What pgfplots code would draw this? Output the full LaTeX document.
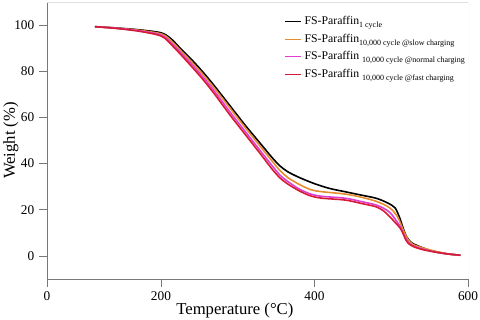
\documentclass[border=0pt]{standalone}
\usepackage{pgfplots}
\pgfplotsset{compat=1.18}
\usepackage{fontspec}
\setmainfont{Liberation Serif}

\definecolor{slowc}{RGB}{228,140,48}
\definecolor{normc}{RGB}{224,60,210}
\definecolor{fastc}{RGB}{214,28,52}
\definecolor{axc}{RGB}{120,120,120}

\newcommand{\sub}[1]{\raisebox{-0.55ex}{\fontsize{6}{7}\selectfont #1}}

\begin{document}
\begin{tikzpicture}
\begin{axis}[
    name=ax,
    scale only axis,
    width=315.75pt, height=207.75pt,
    xmin=51.5, xmax=600,
    ymin=-10, ymax=110,
    xtick={51.5,200,400,600},
    xticklabels={0,200,400,600},
    ytick={0,20,40,60,80,100},
    axis x line*=bottom,
    axis y line*=left,
    axis line style={axc, line width=0.6pt},
    tick style={axc, line width=0.6pt},
    major tick length=6pt,
    tick align=outside,
    /pgf/number format/assume math mode=true,
    ticklabel style={font=\fontsize{10}{12}\selectfont},
    xlabel={Temperature (°C)},
    ylabel={Weight (\%)},
    label style={font=\fontsize{12.5}{14}\selectfont},
    xlabel style={yshift=5pt, xshift=-17pt},
    ylabel style={yshift=-10pt},
    legend style={draw=none, fill=none, at={(0.555,0.968)}, anchor=north west,
        font=\fontsize{8.8}{10}\selectfont, row sep=1.5pt},
    legend cell align=left,
    legend image code/.code={\draw[#1, line width=0.8pt] (0pt,0pt) -- (12pt,0pt);},
]
\draw[black!12, line width=0.6pt] (rel axis cs:0,1) -- (rel axis cs:1,1) -- (rel axis cs:1,0);

\addplot[black, line width=1.2pt, smooth] coordinates {
 (114,99.3) (140,98.8) (170,98.0) (195,97.0) (205,96.0) (215,93.5) (225,90.0)
 (240,85.0) (255,79.5) (270,73.5) (290,65.0) (310,56.5) (330,48.5) (345,42.5)
 (355,39.0) (365,36.5) (380,34.0) (400,31.3) (420,29.2) (440,27.8) (460,26.4)
 (480,25.0) (495,23.0) (505,20.8) (511,16.5) (515,12.5) (520,8.3) (526,5.8)
 (533,4.6) (545,3.0) (555,2.0) (575,0.8) (590,0.3)
};
\addlegendentry{FS-Paraffin\sub{1 cycle}}

\addplot[slowc, line width=1.2pt, smooth] coordinates {
 (114,99.3) (140,98.7) (170,97.8) (195,96.6) (205,95.5) (215,92.7) (225,89.2)
 (240,84.0) (255,78.5) (270,72.5) (290,64.0) (310,55.5) (330,47.2) (345,41.0)
 (355,37.0) (365,34.0) (380,31.0) (395,28.7) (410,27.8) (440,26.8) (460,25.5)
 (480,23.7) (495,21.5) (503,19.3) (509,16.5) (514,12.5) (518,9.5) (522,7.0)
 (528,5.0) (536,4.0) (548,2.8) (560,1.8) (575,0.8) (590,0.3)
};
\addlegendentry{FS-Paraffin\sub{10,000 cycle @slow charging}}

\addplot[normc, line width=1.2pt, smooth] coordinates {
 (114,99.3) (140,98.7) (170,97.6) (195,96.2) (205,94.8) (215,91.7) (225,88.3)
 (240,83.0) (255,77.3) (270,71.2) (290,62.3) (310,53.8) (330,45.3) (345,39.0)
 (355,35.0) (365,32.3) (380,29.0) (395,26.8) (410,25.8) (440,25.0) (460,23.6)
 (480,22.1) (492,20.3) (500,18.2) (507,15.0) (512,12.5) (516,9.5) (520,7.0)
 (525,5.0) (533,3.8) (545,2.6) (560,1.5) (575,0.8) (590,0.3)
};
\addlegendentry{FS-Paraffin \sub{10,000 cycle @normal charging}}

\addplot[fastc, line width=1.2pt, smooth] coordinates {
 (114,99.3) (140,98.6) (170,97.4) (195,95.8) (205,94.3) (215,91.0) (225,87.5)
 (240,82.0) (255,76.3) (270,70.0) (290,61.0) (310,52.5) (330,44.0) (345,37.5)
 (355,33.8) (365,31.2) (380,28.2) (395,26.0) (410,25.0) (440,24.2) (460,22.8)
 (480,21.3) (490,19.5) (498,17.0) (505,14.5) (511,12.3) (515,10.0) (518,7.6)
 (522,5.5) (529,4.0) (540,2.8) (555,1.8) (570,1.0) (590,0.3)
};
\addlegendentry{FS-Paraffin \sub{10,000 cycle @fast charging}}
\end{axis}
\pgfresetboundingbox
\path ([shift={(-35.25pt,-30.75pt)}]ax.south west) rectangle ([shift={(9pt,1.5pt)}]ax.north east);
\end{tikzpicture}
\end{document}
